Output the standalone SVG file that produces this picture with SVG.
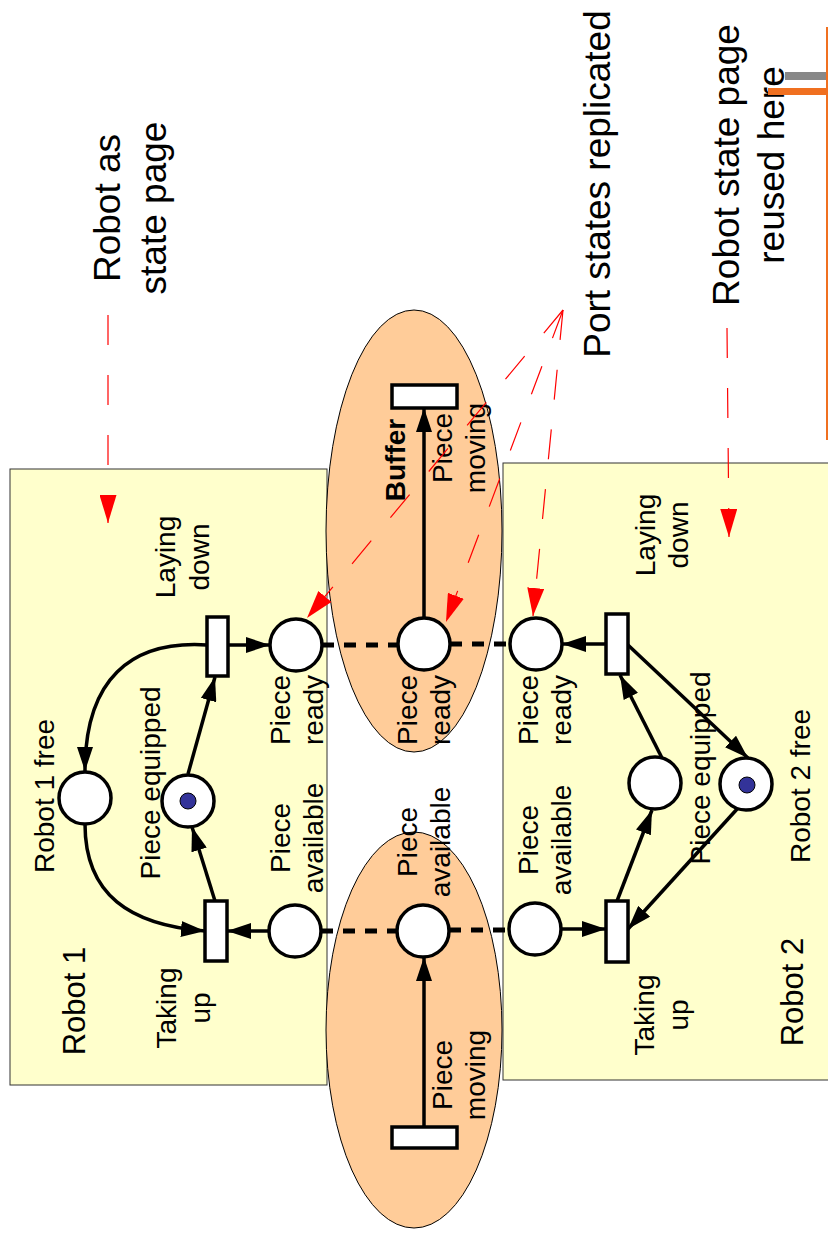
<svg xmlns="http://www.w3.org/2000/svg" width="828" height="1240" viewBox="0 0 828 1240">
<style>
text{font-family:"Liberation Sans",Arial,sans-serif;fill:#000;text-anchor:middle}
.lbl{font-size:28px}
.big{font-size:31px}
.ttl{font-size:37px}
.bold{font-weight:bold}
.box{fill:#FFFFCC;stroke:#333;stroke-width:1}
.ell{fill:#FFCC99;stroke:#000;stroke-width:1}
.place{fill:#fff;stroke:#000;stroke-width:3.5}
.trans{fill:#fff;stroke:#000;stroke-width:3.5}
.arc{fill:none;stroke:#000;stroke-width:3.5;marker-end:url(#arr)}
.link{fill:none;stroke:#000;stroke-width:5;stroke-dasharray:12 10}
.note{fill:none;stroke:#f00;stroke-width:1.2;stroke-dasharray:30 30;marker-end:url(#rarr)}
.tok{fill:#333399;stroke:#000;stroke-width:1}
</style>
<defs>
<marker id="arr" viewBox="0 0 24 16" refX="24" refY="8" markerWidth="24" markerHeight="16" markerUnits="userSpaceOnUse" orient="auto"><path d="M0,0 L24,8 L0,16 z" fill="#000"/></marker>
<marker id="rarr" viewBox="0 0 28 17" refX="28" refY="8.5" markerWidth="28" markerHeight="17" markerUnits="userSpaceOnUse" orient="auto"><path d="M0,0 L28,8.5 L0,17 z" fill="#f00"/></marker>
</defs>
<rect width="828" height="1240" fill="#fff"/>

<g id="robot1">
<rect class="box" x="10" y="469" width="317" height="616"/>
<text class="big" transform="translate(85,1001) rotate(-90)">Robot 1</text>
</g>
<g id="robot2">
<rect class="box" x="503" y="463" width="330" height="617"/>
<text class="big" transform="translate(803,992) rotate(-90)">Robot 2</text>
</g>
<g id="buffer-port">
<ellipse class="ell" cx="414" cy="531" rx="88" ry="221"/>
</g>
<g id="moving-port">
<ellipse class="ell" cx="414" cy="1030" rx="88" ry="198"/>
</g>

<g id="connectors">
<path class="arc" d="M228,645 L270,645"/>
<path class="arc" d="M188,774 L215,677"/>
<path class="arc" d="M207,645 C130,640 85,680 85,771"/>
<path class="arc" d="M85,824 C85,895 130,925 205,931"/>
<path class="arc" d="M215,901 L192,827"/>
<path class="arc" d="M269,931 L227,931"/>
<path class="arc" d="M606,644 L562,644"/>
<path class="arc" d="M662,758 L620,675"/>
<path class="arc" d="M628,645 L748,758"/>
<path class="arc" d="M738,808 L628,929"/>
<path class="arc" d="M617,901 L652,810"/>
<path class="arc" d="M561,929 L606,929"/>
<path class="arc" d="M424,618 L424,408"/>
<path class="arc" d="M424,1127 L424,957"/>
<path class="link" d="M322,645 L398,645"/>
<path class="link" d="M450,644 L510,644"/>
<path class="link" d="M321,931 L397,931"/>
<path class="link" d="M449,930 L509,930"/>
</g>

<g id="r1-laying-down"><rect class="trans" x="207" y="617" width="21" height="59"/>
<text class="lbl" transform="translate(175,557) rotate(-90)">Laying</text>
<text class="lbl" transform="translate(209,557) rotate(-90)">down</text></g>
<g id="r1-taking-up"><rect class="trans" x="205" y="901" width="22" height="60"/>
<text class="lbl" transform="translate(176,1008) rotate(-90)">Taking</text>
<text class="lbl" transform="translate(210,1008) rotate(-90)">up</text></g>
<g id="r1-piece-ready"><circle class="place" cx="296" cy="645" r="26"/>
<text class="lbl" transform="translate(290,710) rotate(-90)">Piece</text>
<text class="lbl" transform="translate(323,710) rotate(-90)">ready</text></g>
<g id="r1-piece-available"><circle class="place" cx="295" cy="931" r="26"/>
<text class="lbl" transform="translate(290,838) rotate(-90)">Piece</text>
<text class="lbl" transform="translate(323,838) rotate(-90)">available</text></g>
<g id="r1-free"><circle class="place" cx="85" cy="798" r="26"/>
<text class="lbl" transform="translate(54,796) rotate(-90)">Robot  1 free</text></g>
<g id="r1-equipped"><circle class="place" cx="188" cy="801" r="26"/><circle class="tok" cx="188" cy="801" r="8"/>
<text class="lbl" transform="translate(160,783) rotate(-90)">Piece equipped</text></g>

<g id="buffer-trans"><rect class="trans" x="392" y="385" width="65" height="23"/>
<text class="lbl bold" transform="translate(405,460) rotate(-90)">Buffer</text>
<text class="lbl" transform="translate(452,448) rotate(-90)">Piece</text>
<text class="lbl" transform="translate(485,448) rotate(-90)">moving</text></g>
<g id="buffer-piece-ready"><circle class="place" cx="424" cy="644" r="26"/>
<text class="lbl" transform="translate(417,710) rotate(-90)">Piece</text>
<text class="lbl" transform="translate(450,710) rotate(-90)">ready</text></g>
<g id="moving-piece-available"><circle class="place" cx="423" cy="931" r="26"/>
<text class="lbl" transform="translate(417,842) rotate(-90)">Piece</text>
<text class="lbl" transform="translate(450,842) rotate(-90)">available</text></g>
<g id="moving-trans"><rect class="trans" x="392" y="1127" width="65" height="21"/>
<text class="lbl" transform="translate(452,1075) rotate(-90)">Piece</text>
<text class="lbl" transform="translate(485,1075) rotate(-90)">moving</text></g>

<g id="r2-laying-down"><rect class="trans" x="606" y="614" width="22" height="60"/>
<text class="lbl" transform="translate(655,535) rotate(-90)">Laying</text>
<text class="lbl" transform="translate(688,535) rotate(-90)">down</text></g>
<g id="r2-taking-up"><rect class="trans" x="606" y="901" width="22" height="61"/>
<text class="lbl" transform="translate(654,1015) rotate(-90)">Taking</text>
<text class="lbl" transform="translate(688,1015) rotate(-90)">up</text></g>
<g id="r2-piece-ready"><circle class="place" cx="536" cy="644" r="26"/>
<text class="lbl" transform="translate(538,710) rotate(-90)">Piece</text>
<text class="lbl" transform="translate(571,710) rotate(-90)">ready</text></g>
<g id="r2-piece-available"><circle class="place" cx="535" cy="929" r="26"/>
<text class="lbl" transform="translate(538,840) rotate(-90)">Piece</text>
<text class="lbl" transform="translate(571,840) rotate(-90)">available</text></g>
<g id="r2-equipped"><circle class="place" cx="655" cy="783" r="26"/>
<text class="lbl" transform="translate(710,768) rotate(-90)">Piece equipped</text></g>
<g id="r2-free"><circle class="place" cx="746" cy="784" r="26"/><circle class="tok" cx="747" cy="785" r="8"/>
<text class="lbl" transform="translate(810,786) rotate(-90)">Robot 2 free</text></g>

<g id="notes">
<text class="ttl" transform="translate(120,208) rotate(-90)">Robot as</text>
<text class="ttl" transform="translate(166,208) rotate(-90)">state page</text>
<text class="ttl" transform="translate(610,184) rotate(-90)">Port states replicated</text>
<text class="ttl" transform="translate(739,165) rotate(-90)">Robot state page</text>
<text class="ttl" transform="translate(784,165) rotate(-90)">reused here</text>
<path class="note" d="M108,315 L108,523"/>
<path class="note" d="M727,328 L729,537"/>
<path class="note" d="M563,310 L307,618"/>
<path class="note" d="M563,310 L446,622"/>
<path class="note" d="M563,310 L533,616"/>
<rect x="785" y="72" width="43" height="8" fill="#888"/>
<rect x="768" y="88" width="60" height="7" fill="#F07020"/>
<rect x="826" y="27" width="2" height="413" fill="#F07020"/>
</g>
</svg>
